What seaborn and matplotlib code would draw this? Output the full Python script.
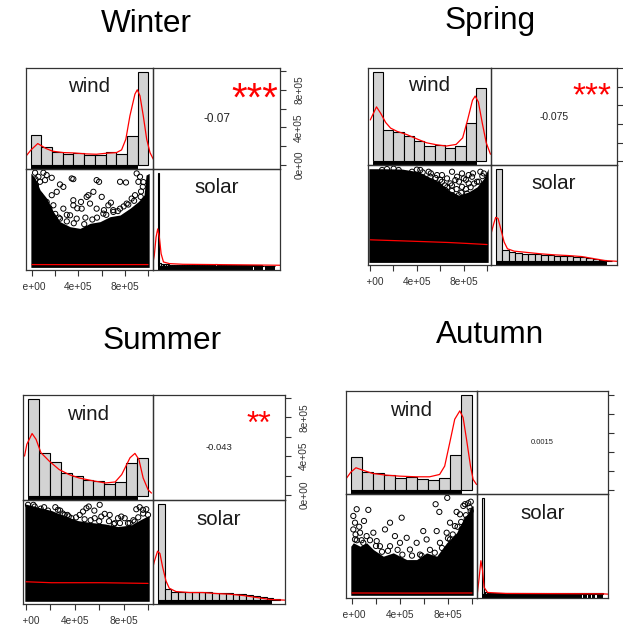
import numpy as np
import pandas as pd
import matplotlib
matplotlib.use("Agg")
import matplotlib.pyplot as plt
import matplotlib.transforms as mtransforms
import seaborn as sns

# ---------------------------------------------------------------- data
SEASONS = ["Winter", "Spring", "Summer", "Autumn"]

WIND_EDGES = [0, 1e5, 2e5, 3e5, 4e5, 5e5, 6e5, 7e5, 8e5, 9e5, 1.0e6, 1.1e6]
WIND_TICKS = [0, 2e5, 4e5, 6e5, 8e5, 1e6]
WIND_TICK_LABELS = ["0e+00", "", "4e+05", "", "8e+05", ""]
WIND_RANGE = (0, 1.005e6)

# wind histogram heights (density scale) and density curve
winter_wind_hist = [90, 56, 40, 34, 36, 32, 32, 40, 35, 88, 280]
winter_wind_kde_x = [-0.50e5, 0.03e5, 0.66e5, 1.44e5, 2.07e5, 3.01e5, 3.95e5, 5.20e5, 6.14e5, 7.08e5,
                     8.03e5, 8.50e5, 8.90e5, 9.28e5, 9.75e5, 9.97e5, 10.22e5, 10.53e5, 10.85e5, 11.16e5, 11.47e5]
winter_wind_kde_y = [25, 46, 65, 50, 42, 38, 37, 34, 33, 36, 38, 46, 78, 148, 213, 226, 208, 148, 78, 38, 18]

spring_wind_hist = [275, 95, 90, 79, 63, 47, 50, 42, 47, 119, 224]
spring_wind_kde_x = [-0.22e5, 0.38e5, 0.79e5, 1.27e5, 1.74e5, 2.37e5, 3.32e5, 4.27e5, 5.22e5, 6.17e5,
                     7.12e5, 8.07e5, 8.70e5, 9.18e5, 9.65e5, 9.91e5, 10.22e5, 10.60e5, 10.98e5, 11.39e5]
spring_wind_kde_y = [127, 167, 147, 119, 102, 92, 82, 69, 57, 51, 47, 52, 72, 127, 187, 200, 182, 117, 57, 22]

summer_wind_hist = [289, 129, 100, 70, 59, 47, 44, 37, 41, 98, 112]
summer_wind_kde_x = [-0.30e5, -0.09e5, 0.39e5, 0.75e5, 1.20e5, 1.96e5, 2.86e5, 3.77e5, 4.67e5, 5.87e5,
                     7.08e5, 7.98e5, 8.58e5, 9.34e5, 9.79e5, 10.15e5, 10.54e5, 10.99e5, 11.30e5]
summer_wind_kde_y = [119, 154, 186, 169, 129, 104, 79, 64, 54, 46, 39, 42, 64, 114, 127, 109, 54, 19, 9]

autumn_wind_hist = [100, 55, 52, 45, 37, 39, 34, 31, 37, 104, 285]
autumn_wind_kde_x = [-0.52e5, 0.0, 0.46e5, 1.06e5, 1.98e5, 3.19e5, 4.41e5, 5.93e5, 7.14e5, 8.05e5,
                     8.51e5, 8.97e5, 9.42e5, 9.88e5, 10.18e5, 10.49e5, 10.85e5, 11.09e5, 11.40e5]
autumn_wind_kde_y = [30, 54, 67, 60, 50, 45, 42, 40, 40, 47, 72, 142, 212, 237, 217, 152, 72, 32, 17]

# solar (share of seasonal maximum) histograms and density curves
winter_solar_binw = 1 / 70
winter_solar_hist = [283, 10, 8, 7, 7, 6, 6, 5, 5, 5,
                     5, 5, 4, 4, 4, 4, 4, 4, 4, 4,
                     4, 4, 4, 4, 4, 4, 4, 4, 4, 4,
                     5, 4, 4, 4, 6, 4, 3, 3, 3, 3,
                     3, 3, 3, 3, 3, 3, 3, 3, 3, 3,
                     3, 3, 3, 3, 3, 3, 3, 3, 3, 3,
                     3, 3, 2, 2, 2, 2, 2, 2, 2, 2]
winter_solar_kde_x = [-0.043, -0.029, -0.014, 0.0, 0.014, 0.029, 0.049, 0.10, 0.214, 0.50, 0.786, 1.043]
winter_solar_kde_y = [5, 33, 88, 113, 88, 38, 13, 8, 6, 5, 4, 3]
winter_solar_rug = [(0.0, 0.809), (0.82, 0.894), (0.909, 1.0)]

spring_solar_binw = 0.0582
spring_solar_hist = [274, 32, 27, 24, 22, 22, 22, 20, 20, 17, 17, 15, 14, 12, 10, 7, 4, 1]
spring_solar_kde_x = [-0.045, -0.021, 0.0, 0.021, 0.045, 0.076, 0.106, 0.167, 0.288, 0.409,
                      0.530, 0.652, 0.773, 0.894, 0.985, 1.09]
spring_solar_kde_y = [77, 107, 130, 127, 97, 57, 37, 30, 26, 22, 19, 17, 14, 7, 2, 0]
spring_solar_rug = [(0.0, 1.0)]

summer_solar_binw = 0.0596
summer_solar_hist = [291, 33, 26, 26, 24, 24, 24, 24, 23, 23, 21, 20, 19, 16, 14, 11, 6, 2]
summer_solar_kde_x = [-0.053, -0.032, -0.003, 0.018, 0.041, 0.071, 0.100, 0.159, 0.277, 0.395,
                      0.513, 0.631, 0.749, 0.867, 0.985, 1.118]
summer_solar_kde_y = [86, 116, 148, 141, 101, 58, 36, 26, 23, 23, 20, 18, 14, 8, 2, 0]
summer_solar_rug = [(0.0, 1.0)]

autumn_solar_binw = 1 / 70
autumn_solar_hist = [288, 6, 5, 4, 4, 4, 3, 3, 3, 3,
                     4, 3, 3, 3, 3, 3, 3, 3, 3, 3,
                     3, 3, 3, 4, 3, 3, 3, 3, 2, 2,
                     2, 2, 2, 2, 2, 2, 2, 2, 2, 2,
                     2, 2, 2, 2, 2, 2, 2, 2, 2, 2,
                     2, 2, 2, 2, 2, 2, 2, 2, 2, 2,
                     2, 2, 2, 2, 2, 2, 2, 2, 2, 2]
autumn_solar_kde_x = [-0.036, -0.022, -0.008, 0.006, 0.019, 0.047, 0.20, 1.0, 1.04]
autumn_solar_kde_y = [5, 50, 100, 70, 20, 5, 2, 1, 0]
autumn_solar_rug = [(0.0, 0.823), (0.837, 0.864), (0.878, 0.898), (0.911, 0.934), (0.947, 1.0)]

# scatter: isolated (wind, solar) observations above the dense cloud
winter_points = [(26e3, 1.0), (55e3, .957), (98e3, 1.0), (126e3, .975), (34e3, .867), (69e3, .903),
                 (112e3, .921), (170e3, .946), (241e3, .875), (270e3, .849), (342e3, .939), (356e3, .932),
                 (557e3, .921), (578e3, .903), (759e3, .903), (810e3, .896), (902e3, .993), (931e3, .957),
                 (917e3, .903), (529e3, .796), (486e3, .760), (601e3, .742), (356e3, .706), (422e3, .688),
                 (471e3, .742), (270e3, .616), (356e3, .652), (428e3, .616), (500e3, .670), (557e3, .616),
                 (658e3, .652), (759e3, .616), (816e3, .670), (859e3, .724), (888e3, .760), (937e3, .742),
                 (701e3, .581), (615e3, .563), (328e3, .545), (241e3, .509), (385e3, .509), (184e3, .652),
                 (170e3, .760), (213e3, .796), (69e3, .760), (126e3, .688),
                 (150e3, .62), (200e3, .56), (230e3, .52), (300e3, .48), (360e3, .46), (450e3, .45),
                 (520e3, .50), (560e3, .52), (640e3, .55), (700e3, .60), (740e3, .59), (790e3, .64),
                 (830e3, .66), (880e3, .70), (940e3, .80), (955e3, .85), (960e3, .90), (40e3, .80),
                 (50e3, .72), (90e3, .70), (110e3, .62), (140e3, .58), (300e3, .55), (460e3, .52),
                 (620e3, .60), (680e3, .68), (390e3, .62), (30e3, .93)]
spring_points = [(359e3, .967), (430e3, .986), (501e3, .967), (516e3, .913), (573e3, .931), (615e3, .931),
                 (658e3, .895), (701e3, .967), (744e3, .913), (786e3, .949), (801e3, .895), (872e3, .913),
                 (915e3, .859), (943e3, .967), (729e3, .877), (786e3, .804), (843e3, .841), (687e3, .841),
                 (644e3, .768), (587e3, .786), (758e3, .714), (829e3, .732), (900e3, .714), (943e3, .732),
                 (615e3, .859), (544e3, .841), (843e3, .931), (972e3, .949), (701e3, .714), (501e3, .859),
                 (103e3, .986), (145e3, .996), (202e3, 1.0), (245e3, .986),
                 (520e3, .95), (560e3, .90), (600e3, .88), (640e3, .82), (660e3, .80), (700e3, .76),
                 (740e3, .78), (780e3, .74), (820e3, .78), (860e3, .80), (890e3, .84), (930e3, .86),
                 (960e3, .92), (450e3, .96), (400e3, .99), (700e3, .82), (760e3, .86), (820e3, .88),
                 (880e3, .95)]
summer_points = [(16e3, .990), (71e3, .972), (148e3, .965), (240e3, .965), (262e3, .938), (317e3, .885),
                 (339e3, .885), (440e3, .885), (467e3, .920), (495e3, .955), (514e3, .972), (604e3, .990),
                 (645e3, .896), (686e3, .885), (754e3, .851), (781e3, .868), (904e3, .944), (932e3, .965),
                 (959e3, .938), (986e3, .944), (1000e3, .885), (836e3, .799), (891e3, .816), (727e3, .799),
                 (563e3, .851), (372e3, .851), (208e3, .885), (98e3, .920), (617e3, .868), (809e3, .851),
                 (120e3, .95), (180e3, .93), (300e3, .90), (350e3, .87), (410e3, .86), (480e3, .84),
                 (530e3, .83), (600e3, .82), (680e3, .82), (720e3, .79), (770e3, .80), (850e3, .80),
                 (880e3, .83), (920e3, .86), (960e3, .90), (60e3, .99), (280e3, .93), (560e3, .93)]
autumn_points = [(11e3, .812), (25e3, .742), (11e3, .672), (39e3, .882), (136e3, .875), (317e3, .742),
                 (414e3, .794), (275e3, .672), (178e3, .638), (122e3, .603), (67e3, .638), (25e3, .568),
                 (358e3, .603), (456e3, .585), (594e3, .655), (706e3, .655), (789e3, .638), (817e3, .742),
                 (697e3, .934), (728e3, .854), (794e3, 1.0), (872e3, .854), (900e3, .829), (928e3, .916),
                 (942e3, .934), (969e3, .944), (989e3, .864), (872e3, .533), (733e3, .533), (622e3, .568),
                 (539e3, .533), (400e3, .533), (233e3, .498), (483e3, .463), (567e3, .411), (94e3, .533),
                 (206e3, .551), (317e3, .498), (817e3, .568), (858e3, .707), (914e3, .672), (956e3, .777),
                 (40e3, .56), (80e3, .56), (150e3, .56), (200e3, .50), (250e3, .44), (300e3, .45),
                 (380e3, .46), (420e3, .41), (500e3, .40), (580e3, .40), (650e3, .46), (690e3, .43),
                 (750e3, .48), (800e3, .58), (840e3, .62), (880e3, .70), (910e3, .75), (950e3, .82),
                 (980e3, .90), (990e3, .96), (30e3, .62), (60e3, .70), (100e3, .76)]

# upper edge of the solid cloud of overlapping observations
winter_cloud = [(-10e3, .996), (26e3, .943), (69e3, .817), (126e3, .728), (184e3, .584), (241e3, .477),
                (328e3, .423), (414e3, .405), (500e3, .459), (586e3, .477), (672e3, .530), (759e3, .548),
                (845e3, .620), (917e3, .692), (966e3, .763), (983e3, .975), (1010e3, .993)]
spring_cloud = [(-10e3, 1.0), (103e3, 1.0), (274e3, .996), (416e3, .967), (501e3, .913), (587e3, .859),
                (672e3, .768), (758e3, .714), (843e3, .750), (915e3, .804), (972e3, .895), (1009e3, 1.0),
                (1010e3, 1.0)]
summer_cloud = [(-10e3, 1.0), (98e3, .965), (208e3, .931), (317e3, .875), (426e3, .826), (536e3, .806),
                (645e3, .792), (754e3, .764), (863e3, .781), (945e3, .840), (1000e3, .875), (1010e3, .875)]
autumn_cloud = [(-10e3, .498), (11e3, .533), (67e3, .498), (122e3, .533), (178e3, .463), (261e3, .394),
                (344e3, .429), (456e3, .359), (539e3, .359), (622e3, .429), (706e3, .394), (789e3, .533),
                (872e3, .638), (928e3, .777), (969e3, .847), (997e3, .916), (1010e3, .916)]

# smoothed trend of solar against wind
winter_smooth = [(0, .018), (500e3, .017), (1000e3, .018)]
spring_smooth = [(3e3, .232), (359e3, .217), (672e3, .203), (843e3, .192), (1000e3, .181)]
summer_smooth = [(0, .191), (208e3, .181), (617e3, .181), (1000e3, .174)]
autumn_smooth = [(0, .012), (500e3, .011), (1000e3, .012)]

# correlation and significance
winter_r, winter_stars = -0.07, "***"
spring_r, spring_stars = -0.075, "***"
summer_r, summer_stars = -0.043, "**"
autumn_r, autumn_stars = 0.0015, ""

# ---------------------------------------------------------------- layout
FIG_W, FIG_H = 623, 626
LAYOUT = {
    # cell grid x0, xmid, x1 / y0, ymid, y1 in pixels, title centre/baseline, label clip edge
    "Winter": dict(xs=(26, 153, 280), ys=(68, 169, 270), title=(146, 32), clip=(23, 0, 345, 313),
                   xlim=(-0.052e6, 1.043e6), ylim=(-0.043e6, 1.032e6), rsize=8.5, ssize=29,
                   right_labels=True),
    "Spring": dict(xs=(368, 491, 617), ys=(68, 165, 265), title=(490.5, 29.5), clip=(367, 0, 623, 313),
                   xlim=(-0.017e6, 1.034e6), ylim=(-0.04e6, 1.003e6), rsize=7.4, ssize=24,
                   right_labels=False),
    "Summer": dict(xs=(23, 153, 285), ys=(395, 500, 604), title=(162.5, 349.5), clip=(22.5, 313, 345, 626),
                   xlim=(-0.025e6, 1.041e6), ylim=(-0.052e6, 1.031e6), rsize=6.8, ssize=23,
                   right_labels=True),
    "Autumn": dict(xs=(346, 477, 608), ys=(391, 494, 598), title=(490, 343), clip=(343, 313, 623, 626),
                   xlim=(-0.05e6, 1.042e6), ylim=(-0.042e6, 1.042e6), rsize=5.5, ssize=23,
                   right_labels=False),
}

DATA = {
    "Winter": (winter_wind_hist, winter_wind_kde_x, winter_wind_kde_y, winter_solar_binw, winter_solar_hist,
               winter_solar_kde_x, winter_solar_kde_y, winter_solar_rug, winter_points, winter_cloud,
               winter_smooth, winter_r, winter_stars),
    "Spring": (spring_wind_hist, spring_wind_kde_x, spring_wind_kde_y, spring_solar_binw, spring_solar_hist,
               spring_solar_kde_x, spring_solar_kde_y, spring_solar_rug, spring_points, spring_cloud,
               spring_smooth, spring_r, spring_stars),
    "Summer": (summer_wind_hist, summer_wind_kde_x, summer_wind_kde_y, summer_solar_binw, summer_solar_hist,
               summer_solar_kde_x, summer_solar_kde_y, summer_solar_rug, summer_points, summer_cloud,
               summer_smooth, summer_r, summer_stars),
    "Autumn": (autumn_wind_hist, autumn_wind_kde_x, autumn_wind_kde_y, autumn_solar_binw, autumn_solar_hist,
               autumn_solar_kde_x, autumn_solar_kde_y, autumn_solar_rug, autumn_points, autumn_cloud,
               autumn_smooth, autumn_r, autumn_stars),
}

sns.set_theme(style="white")
plt.rcParams["font.family"] = ["Liberation Sans", "DejaVu Sans"]

fig = plt.figure(figsize=(FIG_W / 100, FIG_H / 100), dpi=100)
fig.patch.set_facecolor("white")

BOX = "#333333"
TXT = "#1a1a1a"


def px_axes(x0, y0, x1, y1, **kw):
    return fig.add_axes([x0 / FIG_W, 1 - y1 / FIG_H, (x1 - x0) / FIG_W, (y1 - y0) / FIG_H], **kw)


def style_cell(ax):
    ax.set_facecolor("none")
    for s in ax.spines.values():
        s.set_visible(True)
        s.set_color(BOX)
        s.set_linewidth(0.9)
    ax.set_xticks([])
    ax.set_yticks([])
    ax.set_xlabel("")
    ax.set_ylabel("")


def draw_hist(ax, edges, counts, kde_x, kde_y, rug, label):
    edges = [float(e) for e in edges]
    frame = pd.DataFrame({
        "value": [(a + b) / 2 for a, b in zip(edges[:-1], edges[1:])],
        "height": [float(c) for c in counts],
    })
    sns.histplot(data=frame, x="value", weights="height", bins=edges, stat="count",
                 color="#D3D3D3", edgecolor="black", linewidth=0.8, alpha=1, ax=ax)
    sns.lineplot(x=list(kde_x), y=list(kde_y), color="red", linewidth=0.9, sort=False, ax=ax)
    for lo, hi in rug:
        ax.axvspan(lo, hi, ymin=0, ymax=0.036, color="black", lw=0)
    span = edges[-1] - edges[0]
    top = max(counts)
    ax.set_xlim(edges[0] - 0.04 * span, edges[-1] + 0.04 * span)
    ax.set_ylim(-0.04 * top, 1.04 * top)
    style_cell(ax)
    ax.text(0.5, 0.76, label, transform=ax.transAxes, ha="center", va="baseline",
            fontsize=14.8, color=TXT)


for season in SEASONS:
    L = LAYOUT[season]
    (w_hist, w_kx, w_ky, s_binw, s_hist, s_kx, s_ky, s_rug,
     points, cloud, smooth, r, stars) = DATA[season]
    xa, xb, xc = L["xs"]
    ya, yb, yc = L["ys"]

    clip_ax = px_axes(*L["clip"])
    clip_ax.set_axis_off()
    clip_ax.set_zorder(-5)

    fig.text(L["title"][0] / FIG_W, 1 - L["title"][1] / FIG_H, season, ha="center",
             va="baseline", fontsize=22.7, color="black")

    # diagonal: wind
    ax_w = px_axes(xa, ya, xb, yb)
    draw_hist(ax_w, WIND_EDGES, w_hist, w_kx, w_ky, [WIND_RANGE], "wind")

    # diagonal: solar
    ax_s = px_axes(xb, yb, xc, yc)
    s_edges = [i * s_binw for i in range(len(s_hist) + 1)]
    draw_hist(ax_s, s_edges, s_hist, s_kx, s_ky, s_rug, "solar")

    # lower: scatter of solar against wind
    ax_sc = px_axes(xa, yb, xb, yc)
    cw, cs = zip(*cloud)
    ax_sc.fill_between(cw, -0.012, cs, color="black", lw=0)
    pw, ps = zip(*points)
    sns.scatterplot(x=list(pw), y=list(ps), s=14, facecolor="none", edgecolor="black",
                    linewidth=0.7, ax=ax_sc)
    mw, ms = zip(*smooth)
    sns.lineplot(x=list(mw), y=list(ms), color="red", linewidth=0.9, sort=False, ax=ax_sc)
    ax_sc.set_xlim(L["xlim"])
    ax_sc.set_ylim(-0.04, 1.04)
    style_cell(ax_sc)
    ax_sc.set_xticks(WIND_TICKS)
    ax_sc.set_xticklabels(WIND_TICK_LABELS)
    ax_sc.tick_params(axis="x", bottom=True, length=4.3, width=0.8, color=BOX, pad=4.3,
                      labelsize=7.3, labelcolor="#333333")
    for lab in ax_sc.get_xticklabels():
        lab.set_clip_on(True)
        lab.set_clip_path(clip_ax.patch)

    # upper: correlation
    ax_c = px_axes(xb, ya, xc, yb)
    style_cell(ax_c)
    ax_c.set_xlim(0, 1)
    ax_c.set_ylim(L["ylim"])
    ax_c.text(0.5, 0.5, f"{r:g}", transform=ax_c.transAxes, ha="center", va="center",
              fontsize=L["rsize"], color="#222222")
    if stars:
        shift = mtransforms.ScaledTranslation(0, -0.573 * L["ssize"] / 72, fig.dpi_scale_trans)
        ax_c.text(0.8, 0.81, stars, transform=ax_c.transAxes + shift, ha="center",
                  va="baseline", fontsize=L["ssize"], color="red")
    ax_c.yaxis.tick_right()
    ax_c.set_yticks(WIND_TICKS)
    if L["right_labels"]:
        ax_c.set_yticklabels(WIND_TICK_LABELS, rotation=90, va="center")
    else:
        ax_c.set_yticklabels([""] * len(WIND_TICKS))
    ax_c.tick_params(axis="y", right=True, left=False, length=4.3, width=0.8, color=BOX,
                     pad=6, labelsize=7.3, labelcolor="#333333")

fig.savefig("out.png", dpi=100, facecolor="white")
